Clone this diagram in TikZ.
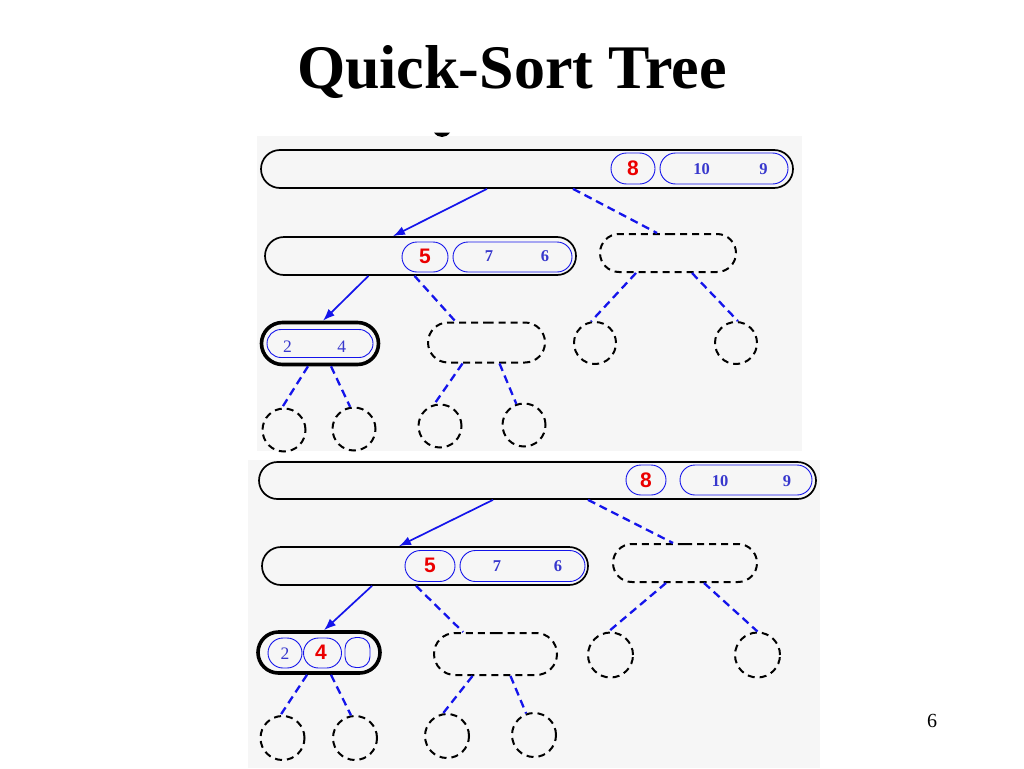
\documentclass[tikz,border=0pt]{standalone}
\usepackage{fontspec}
\setmainfont{Liberation Serif}
\newfontfamily\arialf{Liberation Sans}
\usetikzlibrary{shapes.misc,arrows.meta}
\definecolor{panelgray}{RGB}{246,246,246}
\definecolor{lineblue}{RGB}{20,20,235}
\definecolor{textblue}{RGB}{55,55,205}
\definecolor{numred}{RGB}{235,0,0}
\tikzset{
 panel/.style={fill=panelgray,draw=none},
 capsule/.style={rounded rectangle,draw=black,line width=1.7pt,inner sep=0pt},
 dcapsule/.style={rounded rectangle,draw=black,line width=2pt,dash pattern=on 7pt off 5pt,inner sep=0pt},
 thickcap/.style={rounded rectangle,draw=black,line width=3.6pt,inner sep=0pt},
 bcap/.style={rounded rectangle,draw=lineblue,line width=0.9pt,inner sep=0pt},
 bbox/.style={rectangle,rounded corners=11pt,draw=lineblue,line width=0.9pt,inner sep=0pt},
 dcirc/.style={circle,draw=black,line width=2pt,dash pattern=on 7pt off 5pt,inner sep=0pt},
 rnum/.style={font=\arialf\bfseries\fontsize{21}{21}\selectfont,text=numred,inner sep=0pt},
 bnum/.style={font=\bfseries\fontsize{16.5}{16.5}\selectfont,text=textblue,inner sep=0pt},
 bnuml/.style={font=\fontsize{17.5}{17.5}\selectfont,text=textblue,inner sep=0pt},
 solidarr/.style={draw=lineblue,line width=1.7pt,-{Latex[length=12pt,width=9pt]}},
 dashline/.style={draw=lineblue,line width=2.3pt,dash pattern=on 8pt off 5pt},
}
\begin{document}
\begin{tikzpicture}[x=1pt,y=-1pt]
\useasboundingbox[fill=white] (0,0) rectangle (1024,768);
% title and page number
\node[anchor=base,font=\bfseries\fontsize{62}{70}\selectfont] (title) at (512,88) {Quick-Sort Tree};
\node[anchor=base,font=\fontsize{20}{20}\selectfont] (pagenum) at (932,727) {6};
% panels
\fill[panel] (257,136) rectangle (802,451);
\fill[panel] (248,460) rectangle (820,768);
\fill (434,132.5) .. controls (438,138.5) and (446,138.5) .. (450,132.5) -- cycle;

% ===== top panel =====
\node[capsule,minimum width=532pt,minimum height=38pt] (rootA) at (527,169) {};
\node[bcap,minimum width=44pt,minimum height=31pt] (p8A) at (633,168.5) {};
\node[rnum] (t8A) at (633,168.5) {8};
\node[bcap,minimum width=128pt,minimum height=31pt] (p109A) at (724,168.5) {};
\node[bnum] (t10A) at (701.5,169.5) {10};
\node[bnum] (t9A) at (763.5,169) {9};

\node[capsule,minimum width=311pt,minimum height=38pt] (lA) at (420.5,256) {};
\node[bcap,minimum width=46pt,minimum height=30pt] (p5A) at (425,257) {};
\node[rnum] (t5A) at (425,256) {5};
\node[bcap,minimum width=119pt,minimum height=30pt] (p76A) at (512.5,257) {};
\node[bnum] (t7A) at (489,256.5) {7};
\node[bnum] (t6A) at (545,256.5) {6};
\node[dcapsule,minimum width=136pt,minimum height=38pt] (rA) at (668,253) {};

\node[thickcap,minimum width=117pt,minimum height=42pt] (l3A) at (320,343.5) {};
\node[bcap,minimum width=106pt,minimum height=28pt] (p24A) at (320,343.5) {};
\node[bnuml] (t2A) at (287.5,347) {2};
\node[bnuml] (t4A) at (341.7,347) {4};
\node[dcapsule,minimum width=117pt,minimum height=40pt] (m3A) at (486.5,342.5) {};
\node[dcirc,minimum size=42pt] (c3A1) at (595,343) {};
\node[dcirc,minimum size=42pt] (c3A2) at (736,343) {};

\node[dcirc,minimum size=43pt] (c4A1) at (284,430) {};
\node[dcirc,minimum size=43pt] (c4A2) at (354,429) {};
\node[dcirc,minimum size=43pt] (c4A3) at (440,426) {};
\node[dcirc,minimum size=43pt] (c4A4) at (524,425) {};

\draw[solidarr] ([xshift=-40pt]rootA.south) -- ([xshift=-27.5pt]lA.north);
\draw[dashline] ([xshift=46pt]rootA.south) -- ([xshift=-11pt]rA.north);
\draw[solidarr] ([xshift=-52pt]lA.south) -- ([xshift=3pt]l3A.north);
\draw[dashline] ([xshift=-6pt]lA.south) -- ([xshift=-31pt]m3A.north);
\draw[dashline] ([xshift=-32pt]rA.south) -- (c3A1.100);
\draw[dashline] ([xshift=24pt]rA.south) -- (c3A2.85);
\draw[dashline] ([xshift=-12pt]l3A.south) -- (c4A1.95);
\draw[dashline] ([xshift=11pt]l3A.south) -- (c4A2.100);
\draw[dashline] ([xshift=-24pt]m3A.south) -- (c4A3.105);
\draw[dashline] ([xshift=13pt]m3A.south) -- (c4A4.110);

% ===== bottom panel =====
\node[capsule,minimum width=557pt,minimum height=37pt] (rootB) at (537.5,480.5) {};
\node[bcap,minimum width=40pt,minimum height=30pt] (p8B) at (646,480) {};
\node[rnum] (t8B) at (646,480) {8};
\node[bcap,minimum width=132pt,minimum height=30pt] (p109B) at (746,480) {};
\node[bnum] (t10B) at (720,481.5) {10};
\node[bnum] (t9B) at (787,481) {9};

\node[capsule,minimum width=326pt,minimum height=38pt] (lB) at (425,566) {};
\node[bcap,minimum width=50pt,minimum height=31pt] (p5B) at (430,566) {};
\node[rnum] (t5B) at (430,565.5) {5};
\node[bcap,minimum width=125pt,minimum height=31pt] (p76B) at (522.5,566) {};
\node[bnum] (t7B) at (497,566.5) {7};
\node[bnum] (t6B) at (558,566.5) {6};
\node[dcapsule,minimum width=144pt,minimum height=38pt] (rB) at (685,563) {};

\node[thickcap,minimum width=122pt,minimum height=41pt] (l3B) at (319,652.5) {};
\node[bcap,minimum width=34pt,minimum height=30pt] (p2B) at (285,653) {};
\node[bnuml] (t2B) at (285,654) {2};
\node[bcap,minimum width=38pt,minimum height=30pt] (p4B) at (322.5,653) {};
\node[rnum] (t4B) at (321,652.5) {4};
\node[bbox,minimum width=25pt,minimum height=30pt] (peB) at (357.5,652.5) {};
\node[dcapsule,minimum width=123pt,minimum height=42pt] (m3B) at (495.5,654) {};
\node[dcirc,minimum size=45pt] (c3B1) at (610.5,655) {};
\node[dcirc,minimum size=45pt] (c3B2) at (757.5,655) {};

\node[dcirc,minimum size=44pt] (c4B1) at (282.5,738) {};
\node[dcirc,minimum size=44pt] (c4B2) at (355,738) {};
\node[dcirc,minimum size=44pt] (c4B3) at (447,736) {};
\node[dcirc,minimum size=44pt] (c4B4) at (534,735) {};

\draw[solidarr] ([xshift=-44.5pt]rootB.south) -- ([xshift=-26pt]lB.north);
\draw[dashline] ([xshift=50.5pt]rootB.south) -- ([xshift=-12pt]rB.north);
\draw[solidarr] ([xshift=-53pt]lB.south) -- ([xshift=5pt]l3B.north);
\draw[dashline] ([xshift=-9pt]lB.south) -- ([xshift=-32.5pt]m3B.north);
\draw[dashline] ([xshift=-19pt]rB.south) -- (c3B1.95);
\draw[dashline] ([xshift=19pt]rB.south) -- (c3B2.90);
\draw[dashline] ([xshift=-12pt]l3B.south) -- (c4B1.95);
\draw[dashline] ([xshift=12pt]l3B.south) -- (c4B2.100);
\draw[dashline] ([xshift=-23pt]m3B.south) -- (c4B3.100);
\draw[dashline] ([xshift=15pt]m3B.south) -- (c4B4.110);
\end{tikzpicture}
\end{document}
